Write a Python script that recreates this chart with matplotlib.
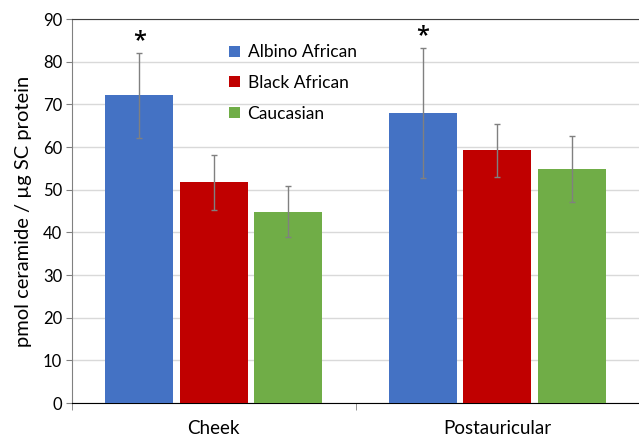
import matplotlib.pyplot as plt
import numpy as np

# data
sites = ["Cheek", "Postauricular"]
groups = ["Albino African", "Black African", "Caucasian"]
colors = ["#4472C4", "#C00000", "#70AD47"]
means = [[72.1, 51.7, 44.8],   # Cheek
         [68.0, 59.2, 54.8]]   # Postauricular
errs = [[9.9, 6.4, 6.0],
        [15.2, 6.2, 7.7]]
starred = [(0, 0), (1, 0)]  # (site, group) with asterisk

plt.rcParams['font.family'] = ['Lato', 'DejaVu Sans']

fig = plt.figure(figsize=(6.39, 4.37), dpi=100)
ax = fig.add_axes([72 / 639, 1 - 403 / 437, 567 / 639, 384 / 437])

x = np.arange(len(sites))
step = 0.263
width = 0.24
for g in range(len(groups)):
    vals = [means[s][g] for s in range(len(sites))]
    e = [errs[s][g] for s in range(len(sites))]
    ax.bar(x + (g - 1) * step, vals, width, color=colors[g], label=groups[g],
           yerr=e, error_kw=dict(ecolor="#808080", elinewidth=1, capsize=2, capthick=1),
           zorder=3)

for s, g in starred:
    ax.annotate("*", (x[s] + (g - 1) * step, means[s][g] + errs[s][g]),
                xytext=(0, 0), textcoords="offset points",
                ha="center", va="bottom", fontsize=17, family="Open Sans",
                fontweight="semibold")

ax.set_xlim(-0.5, 1.5)
ax.set_ylim(0, 90)
ax.set_yticks(range(0, 91, 10))
ax.yaxis.grid(True, color="#D9D9D9", linewidth=1, zorder=0)
ax.set_axisbelow(True)

ax.set_xticks(x)
ax.set_xticklabels(sites, fontsize=13.5)
ax.tick_params(axis="x", length=0, pad=12)
ax.set_xticks([-0.5, 0.5], minor=True)
ax.tick_params(axis="x", which="minor", length=5, color="#808080")
ax.tick_params(axis="y", labelsize=12, length=4, color="#808080", pad=3)

ax.spines["left"].set_color("#808080")
ax.spines["bottom"].set_color("#000000")
ax.spines["top"].set_color("#404040")
ax.spines["right"].set_visible(False)

ax.set_ylabel("pmol ceramide / µg SC protein", fontsize=14.5, labelpad=8)

ax.legend(loc="upper left", bbox_to_anchor=(0.25, 0.975), frameon=False,
          fontsize=12.5, handlelength=0.6, handleheight=0.6,
          handletextpad=0.45, labelspacing=0.85)

fig.savefig("out.png", dpi=100)
